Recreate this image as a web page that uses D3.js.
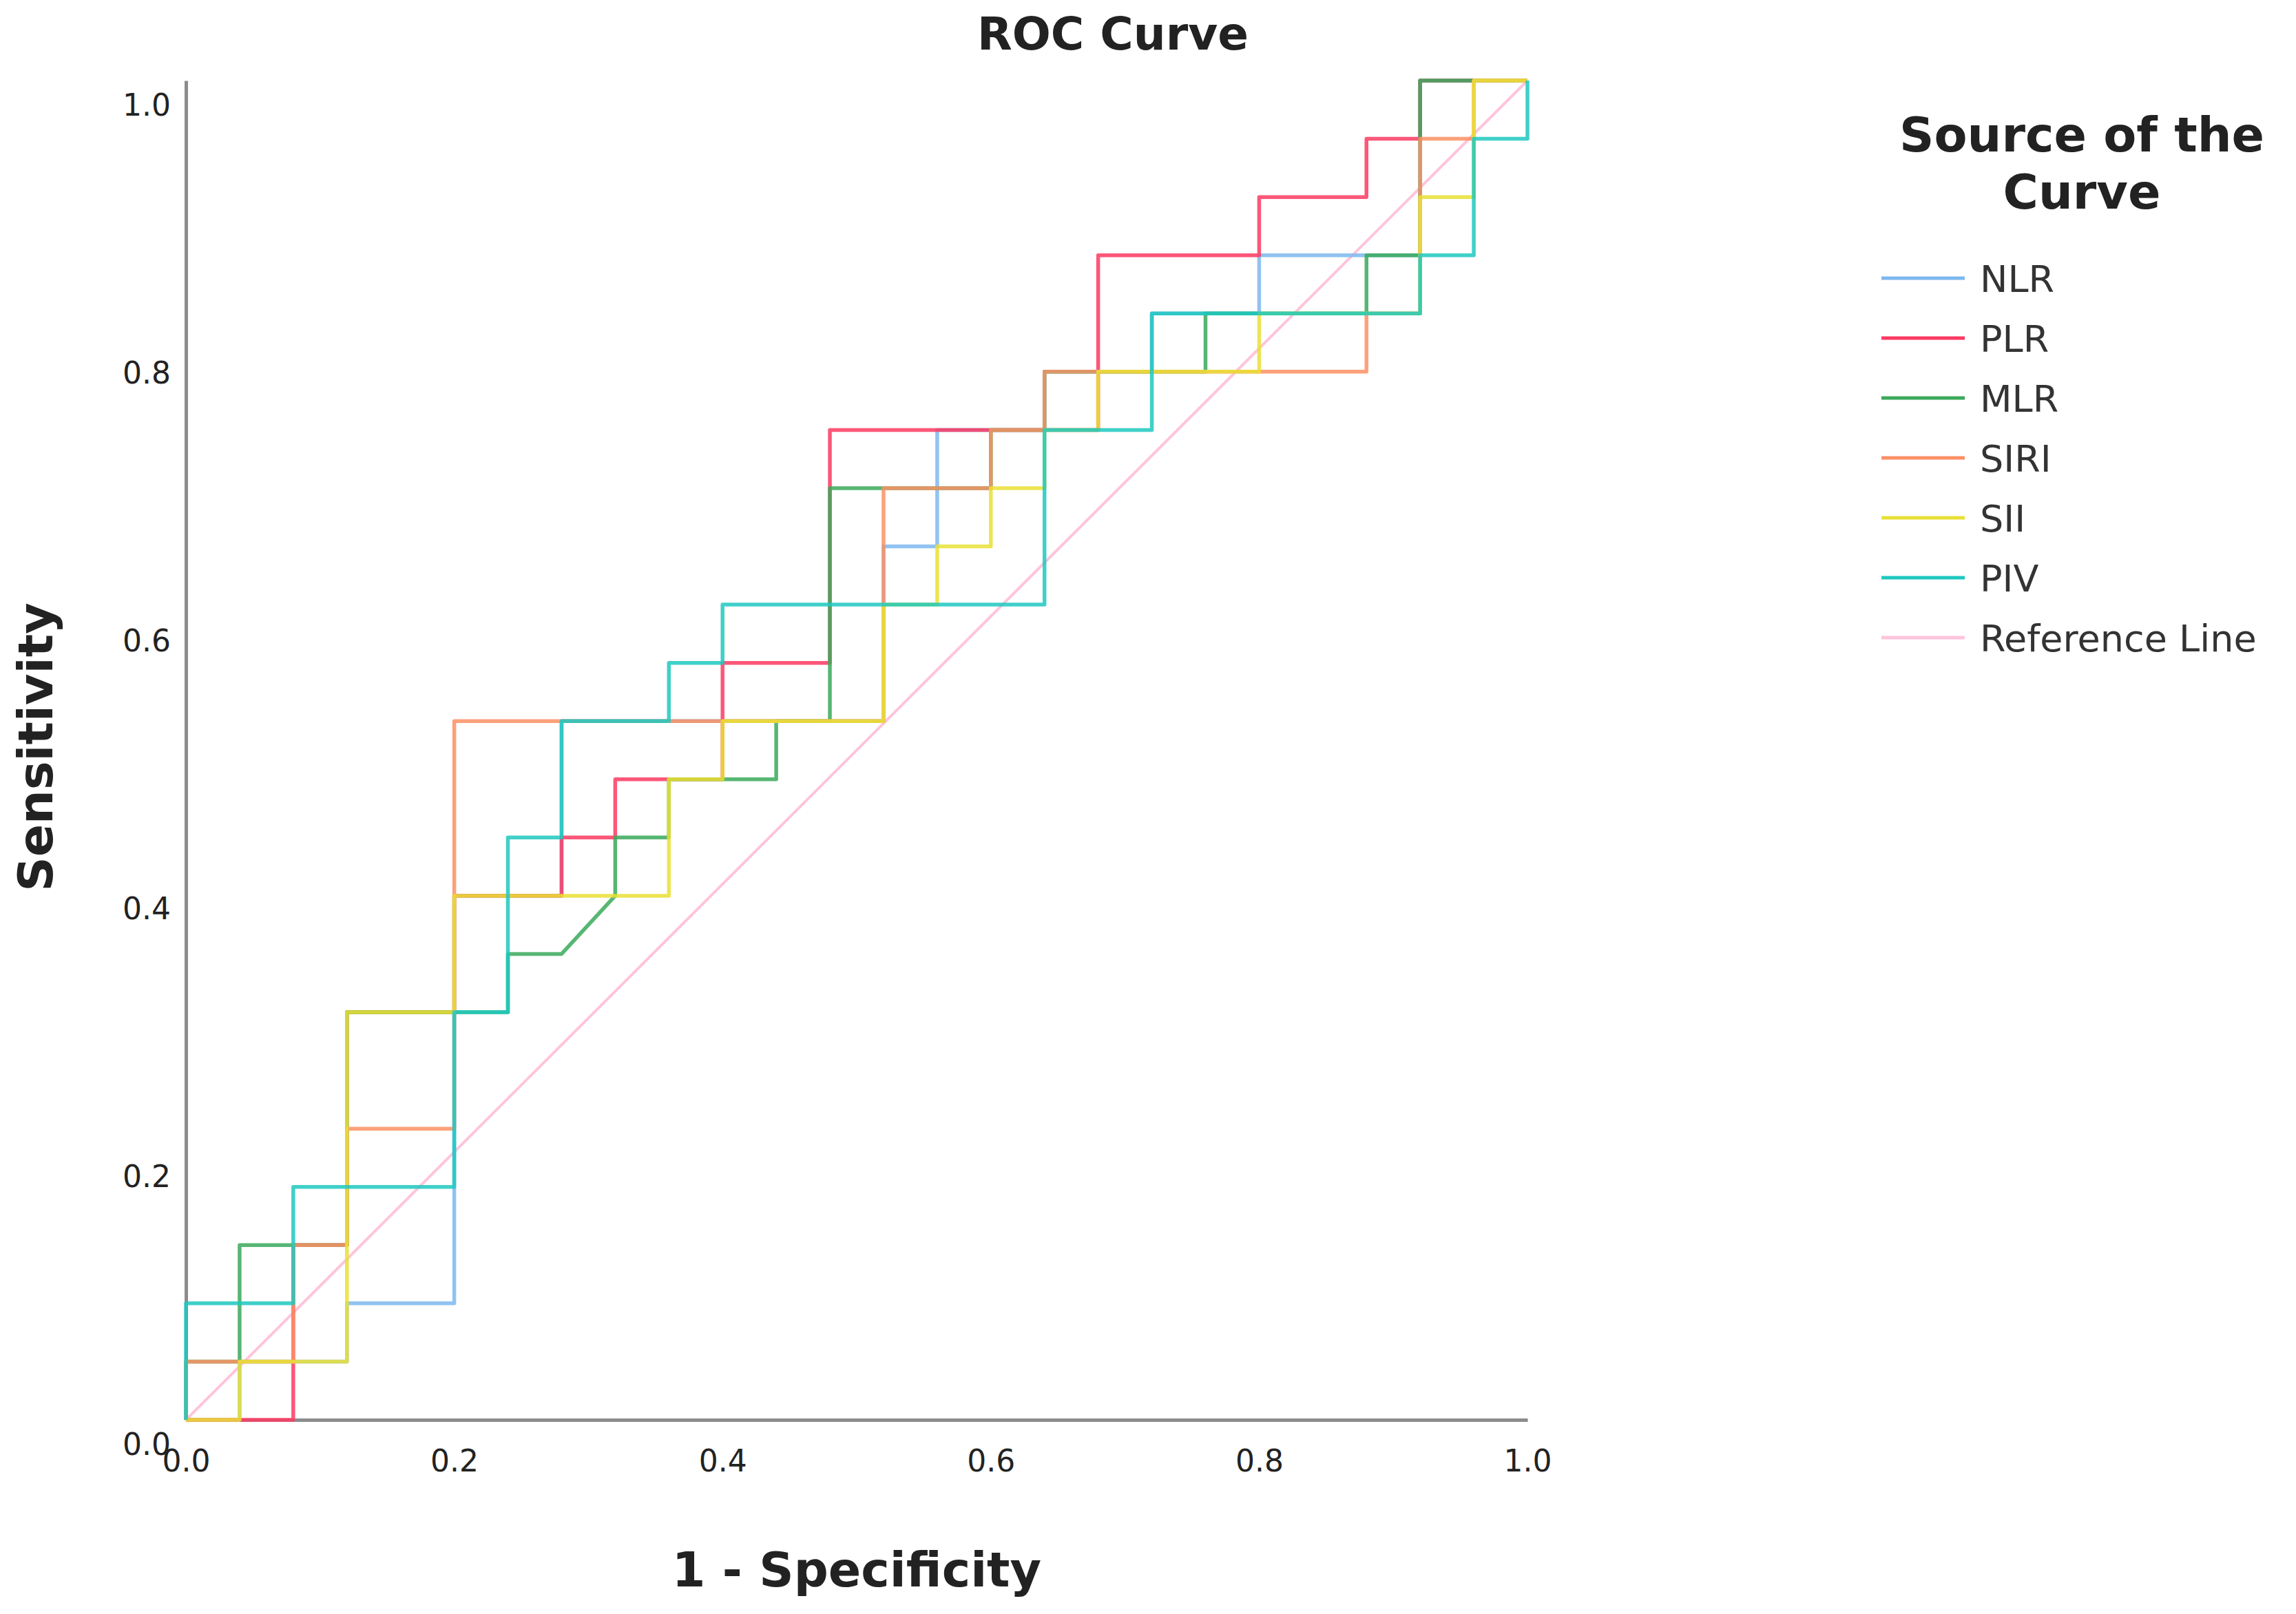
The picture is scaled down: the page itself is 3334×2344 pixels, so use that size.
<!DOCTYPE html>
<html>
<head>
<meta charset="utf-8">
<script src="https://cdn.jsdelivr.net/npm/d3@7"></script>
<style>
  body { margin: 0; background: white; }
  svg { display: block; }
</style>
</head>
<body>
<svg id="chart"></svg>
<script>
// step points in units: x = i/25 (1 - specificity), y = j/23 (sensitivity)
const seriesNames = ["NLR", "PLR", "MLR", "SIRI", "SII", "PIV"];
const seriesColors = ["#7db8ee", "#fb3a62", "#3aa95a", "#fc9064", "#e9e135", "#1ec8c0"];

const nlr = [[0,0],[1,0],[1,1],[3,1],[3,2],[5,2],[5,9],[7,9],[7,12],[13,12],[13,15],[14,15],[14,17],[16,17],[16,18],[18,18],[18,19],[20,19],[20,20],[23,20],[23,23],[25,23]];
const plr = [[0,0],[2,0],[2,3],[3,3],[3,7],[5,7],[5,9],[7,9],[7,10],[8,10],[8,11],[10,11],[10,13],[12,13],[12,17],[17,17],[17,20],[20,20],[20,21],[22,21],[22,22],[23,22],[23,23],[25,23]];
const mlr = [[0,0],[0,1],[1,1],[1,3],[3,3],[3,7],[6,7],[6,8],[7,8],[8,9],[8,10],[9,10],[9,11],[11,11],[11,12],[12,12],[12,16],[15,16],[15,17],[16,17],[16,18],[19,18],[19,19],[22,19],[22,20],[23,20],[23,23],[25,23]];
const siri = [[0,0],[0,1],[2,1],[2,3],[3,3],[3,5],[5,5],[5,12],[13,12],[13,16],[15,16],[15,17],[16,17],[16,18],[22,18],[22,19],[23,19],[23,22],[24,22],[24,23],[25,23]];
const sii = [[0,0],[1,0],[1,1],[3,1],[3,7],[5,7],[5,9],[9,9],[9,11],[10,11],[10,12],[13,12],[13,14],[14,14],[14,15],[15,15],[15,16],[16,16],[16,17],[17,17],[17,18],[20,18],[20,19],[23,19],[23,21],[24,21],[24,23],[25,23]];
const piv = [[0,0],[0,2],[2,2],[2,4],[5,4],[5,7],[6,7],[6,10],[7,10],[7,12],[9,12],[9,13],[10,13],[10,14],[16,14],[16,17],[18,17],[18,19],[23,19],[23,20],[24,20],[24,22],[25,22],[25,23]];
const seriesPoints = [nlr, plr, mlr, siri, sii, piv];
const nNeg = 25, nPos = 23;

const tickValues = [0, 0.2, 0.4, 0.6, 0.8, 1.0];

const W = 3334, H = 2344;
const svg = d3.select("#chart").attr("width", W).attr("height", H);

const x = d3.scaleLinear().domain([0, 1]).range([270, 2218]);
const y = d3.scaleLinear().domain([0, 1]).range([2062, 117]);

// axes
const xAxis = svg.append("g").attr("transform", `translate(0,${y(0)})`)
    .call(d3.axisBottom(x).tickValues(tickValues).tickSize(0).tickFormat(d3.format(".1f")));
const yAxis = svg.append("g").attr("transform", `translate(${x(0)},0)`)
    .call(d3.axisLeft(y).tickValues(tickValues).tickSize(0).tickFormat(d3.format(".1f")));
xAxis.select(".domain").attr("stroke", "#8c8c8c").attr("stroke-width", 5);
yAxis.select(".domain").attr("stroke", "#8c8c8c").attr("stroke-width", 5);
xAxis.selectAll("text").attr("dy", 0).attr("y", 75)
    .style("font-family", "DejaVu Sans").style("font-size", "44px").attr("fill", "#222");
yAxis.selectAll("text").attr("dy", 0).attr("x", -22).attr("y", 50)
    .style("font-family", "DejaVu Sans").style("font-size", "44px").attr("fill", "#222");

// reference line
svg.append("line")
    .attr("x1", x(0)).attr("y1", y(0)).attr("x2", x(1)).attr("y2", y(1))
    .attr("stroke", "#ffc4dc").attr("stroke-width", 4);

const line = d3.line()
    .x(d => x(d[0] / nNeg))
    .y(d => y(d[1] / nPos));

seriesPoints.forEach((pts, i) => {
    svg.append("path")
        .datum(pts)
        .attr("d", line)
        .attr("fill", "none")
        .attr("stroke", seriesColors[i])
        .attr("stroke-width", 5.5)
        .attr("stroke-opacity", 0.85)
        .attr("stroke-linejoin", "round");
});

// titles
svg.append("text").attr("x", 1616).attr("y", 72).attr("text-anchor", "middle")
    .style("font-family", "DejaVu Sans").style("font-weight", "bold").style("font-size", "66px")
    .attr("fill", "#222").text("ROC Curve");
svg.append("text").attr("transform", "translate(76,1085) rotate(-90)").attr("text-anchor", "middle")
    .style("font-family", "DejaVu Sans").style("font-weight", "bold").style("font-size", "70px")
    .attr("fill", "#222").text("Sensitivity");
svg.append("text").attr("x", 1244).attr("y", 2304).attr("text-anchor", "middle")
    .style("font-family", "DejaVu Sans").style("font-weight", "bold").style("font-size", "70px")
    .attr("fill", "#222").text("1 - Specificity");

// legend
const legendTitle = ["Source of the", "Curve"];
legendTitle.forEach((t, i) => {
    svg.append("text").attr("x", 3023).attr("y", 220 + i * 83).attr("text-anchor", "middle")
        .style("font-family", "DejaVu Sans").style("font-weight", "bold").style("font-size", "70px")
        .attr("fill", "#222").text(t);
});

const legendNames = seriesNames.concat(["Reference Line"]);
const legendColors = seriesColors.concat(["#ffc4dc"]);
const legend = svg.selectAll(".legend-item")
    .data(legendNames)
    .enter()
    .append("g")
    .attr("class", "legend-item")
    .attr("transform", (d, i) => `translate(2732,${404 + i * 87})`);
legend.append("line")
    .attr("x1", 0).attr("x2", 121)
    .attr("stroke", (d, i) => legendColors[i])
    .attr("stroke-width", 5);
legend.append("text")
    .attr("x", 143).attr("y", 20)
    .style("font-family", "DejaVu Sans").style("font-size", "54px")
    .attr("fill", "#333")
    .text(d => d);
</script>
</body>
</html>
